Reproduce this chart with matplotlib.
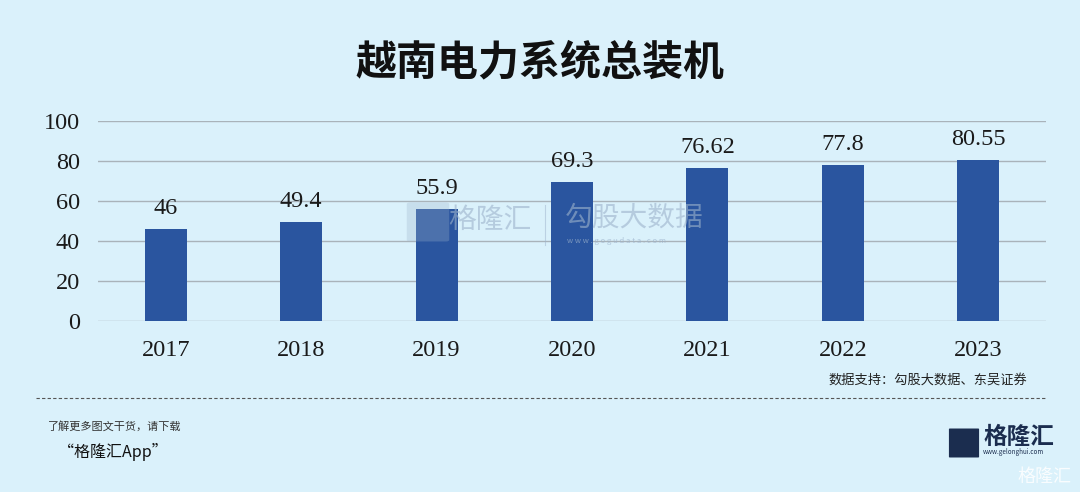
import matplotlib
matplotlib.use("Agg")
import matplotlib.pyplot as plt
from matplotlib.patches import FancyBboxPatch

years = ["2017", "2018", "2019", "2020", "2021", "2022", "2023"]
values = [46, 49.4, 55.9, 69.3, 76.62, 77.8, 80.55]
value_labels = ["46", "49.4", "55.9", "69.3", "76.62", "77.8", "80.55"]
yticks = [0, 20, 40, 60, 80, 100]

bg = "#DAF1FB"
bar_color = "#2A559F"
cjk = ["Noto Sans CJK SC", "DejaVu Sans"]
serif = ["Liberation Serif", "DejaVu Serif"]

fig = plt.figure(figsize=(10.8, 4.92), dpi=100, facecolor=bg)
ax = fig.add_axes([98/1080, 1-321/492, 948/1080, 200/492], facecolor=bg)

x = range(len(years))
ax.bar(x, values, width=0.31, color=bar_color, zorder=3)
for xi, v, lab in zip(x, values, value_labels):
    ax.text(xi, v + 5, lab, ha="center", va="bottom", fontsize=17.5,
            family=serif, color="#1a1a1a", zorder=4)

ax.set_xlim(-0.5, len(years) - 0.5)
ax.set_ylim(0, 100)
ax.set_yticks(yticks)
ax.set_yticklabels([str(t) for t in yticks], family=serif, fontsize=17.5, color="#1a1a1a")
ax.set_xticks(list(x))
ax.set_xticklabels(years, family=serif, fontsize=17.5, color="#1a1a1a")
ax.tick_params(axis="both", length=0)
ax.tick_params(axis="y", pad=13)
ax.tick_params(axis="x", pad=14)
ax.grid(axis="y", color="#A9B3BA", linewidth=1.0, zorder=0)
for s in ax.spines.values():
    s.set_visible(False)

# Title
fig.text(0.5, 1-62/492, "越南电力系统总装机", ha="center", va="center",
         fontsize=29.5, fontweight="bold", family=cjk, color="#111111")

# Watermark
fig.add_artist(FancyBboxPatch((410/1080, 1-240/492), 36/1080, 36/492,
                              boxstyle="round,pad=0.003", transform=fig.transFigure,
                              facecolor="#9DB3CC", edgecolor="none", alpha=0.3))
fig.text(448/1080, 1-220/492, "格隆汇", ha="left", va="center", fontsize=20,
         family=cjk, color="#9DB3CC", alpha=0.6)
fig.add_artist(plt.Line2D([545/1080, 545/1080], [1-205/492, 1-245/492],
                          transform=fig.transFigure, color="#9DB3CC", alpha=0.5, linewidth=0.8))
fig.text(565/1080, 1-218/492, "勾股大数据", ha="left", va="center", fontsize=20,
         family=cjk, color="#9DB3CC", alpha=0.6)
fig.text(567/1080, 1-241/492, "w w w . g o g u d a t a . c o m", ha="left", va="center",
         fontsize=5.5, family=cjk, color="#9DB3CC", alpha=0.7)

# Source
fig.text(1027/1080, 1-380/492, "数据支持：勾股大数据、东吴证券", ha="right", va="center",
         fontsize=9.5, family=cjk, color="#222222")

# Dashed separator
fig.add_artist(plt.Line2D([36/1080, 1046/1080], [1-398/492, 1-398/492],
                          transform=fig.transFigure, color="#555555",
                          linewidth=0.8, linestyle=(0, (3, 2))))

# Bottom left text
fig.text(48/1080, 1-426/492, "了解更多图文干货，请下载", ha="left", va="center",
         fontsize=8, family=cjk, color="#333333", style="italic")
fig.text(58/1080, 1-452/492, "“格隆汇App”", ha="left", va="center",
         fontsize=11.5, family=cjk, color="#111111", style="italic")

# Logo bottom right
fig.add_artist(FancyBboxPatch((950/1080, 1-457/492), 28/1080, 28/492,
                              boxstyle="round,pad=0.001", transform=fig.transFigure,
                              facecolor="#1B2D4F", edgecolor="none"))
fig.text(983/1080, 1-437/492, "格隆汇", ha="left", va="center",
         fontsize=17, family=cjk, color="#1B2D4F", fontweight="bold")
fig.text(983/1080, 1-452/492, "www.gelonghui.com", ha="left", va="center",
         fontsize=4.5, family=cjk, color="#1B2D4F")
fig.text(1072/1080, 1-477/492, "格隆汇", ha="right", va="center",
         fontsize=13, family=cjk, color="white", alpha=0.85)

fig.savefig("out.png", dpi=100, facecolor=bg)
